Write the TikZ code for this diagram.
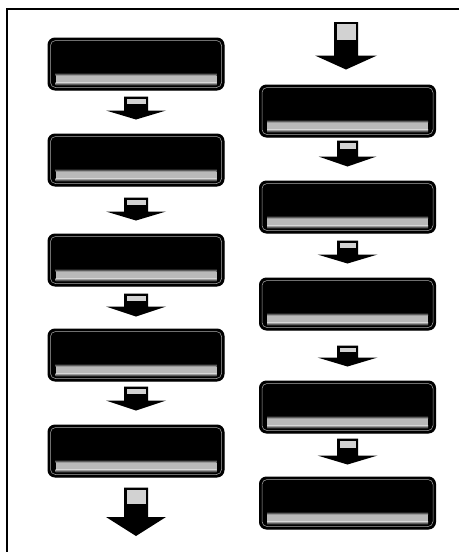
\documentclass[tikz,border=0pt]{standalone}
\usetikzlibrary{calc}
\tikzset{
  flowbox/.style={draw=black, line width=1pt, fill=black, rounded corners=7pt,
    minimum width=176pt, minimum height=52pt, inner sep=0pt},
  stripcore/.style={fill=gray!55},
  stripup/.style={top color=black, bottom color=gray!55},
  stripdown/.style={top color=gray!55, bottom color=black},
  hilite/.style={draw=gray!65, line width=0.5pt, rounded corners=5pt},
  arrowfill/.style={fill=black},
  stemlight/.style={fill=gray!35},
  frameline/.style={draw=black, line width=1.6pt}
}
% #1 start coordinate (stem top), #2 tip coordinate, #3 head length, #4 stem half width, #5 head half width
\newcommand\barrow[5]{%
  \fill[arrowfill] let \p1=(#1), \p2=(#2) in
    (\x1-#4pt,\y1) -- (\x1+#4pt,\y1) -- (\x1+#4pt,\y2+#3pt) -- (\x1+#5pt,\y2+#3pt)
    -- (\x1,\y2) -- (\x1-#5pt,\y2+#3pt) -- (\x1-#4pt,\y2+#3pt) -- cycle;
  \fill[stemlight] let \p1=(#1), \p2=(#2) in
    (\x1-#4pt+2.5pt,\y1-2pt) rectangle (\x1+#4pt-2.5pt,{\y1-0.55*(\y1-\y2-#3pt)});
}
\begin{document}
\begin{tikzpicture}[x=1pt,y=1pt]
\useasboundingbox (0,0) rectangle (459,-552);
\fill[white] (0,0) rectangle (459,-552);
% frame (top and left edges)
\draw[frameline] (459,-9) -- (7,-9) -- (7,-552);

% left column
\node[flowbox] (L1) at (136,-64) {};
\node[flowbox] (L2) at (136,-160) {};
\node[flowbox] (L3) at (136,-260) {};
\node[flowbox] (L4) at (136,-355) {};
\node[flowbox] (L5) at (136,-451) {};
% right column
\node[flowbox] (R1) at (347.5,-111) {};
\node[flowbox] (R2) at (347.5,-207) {};
\node[flowbox] (R3) at (347.5,-304) {};
\node[flowbox] (R4) at (347.5,-407) {};
\node[flowbox] (R5) at (347.5,-503) {};

\foreach \n in {L1,L2,L3,L4,L5,R1,R2,R3,R4,R5}{
  \fill[stripcore] ($(\n.south west)+(8,8)$) rectangle ($(\n.south east)+(-8,15)$);
  \shade[stripup] ($(\n.south west)+(8,15)$) rectangle ($(\n.south east)+(-8,18)$);
  \shade[stripdown] ($(\n.south west)+(8,5)$) rectangle ($(\n.south east)+(-8,8)$);
  \draw[hilite] ($(\n.south west)+(3,3)$) rectangle ($(\n.north east)+(-3,-3)$);
}

% free ends
\coordinate (Lend) at (136,-536);
\coordinate (Rstart) at (346,-22);

% left arrows
\barrow{$(L1.south)+(0,-6)$}{$(L2.north)+(0,14)$}{9}{12}{30}
\barrow{$(L2.south)+(0,-11)$}{$(L3.north)+(0,13)$}{9}{12}{30}
\barrow{$(L3.south)+(0,-7)$}{$(L4.north)+(0,12)$}{10}{12}{30}
\barrow{$(L4.south)+(0,-5)$}{$(L5.north)+(0,14)$}{10}{12}{30}
\barrow{$(L5.south)+(0,-10)$}{Lend}{19}{12}{30}
% right arrows
\barrow{Rstart}{$(R1.north)+(0,15)$}{14}{12}{31}
\barrow{$(R1.south)+(0,-3)$}{$(R2.north)+(0,14)$}{10}{10.5}{29}
\barrow{$(R2.south)+(0,-7)$}{$(R3.north)+(0,14)$}{9}{10.5}{30}
\barrow{$(R3.south)+(0,-15)$}{$(R4.north)+(0,14)$}{9}{10.5}{30}
\barrow{$(R4.south)+(0,-5)$}{$(R5.north)+(0,12)$}{9}{10.5}{30}
\end{tikzpicture}
\end{document}
